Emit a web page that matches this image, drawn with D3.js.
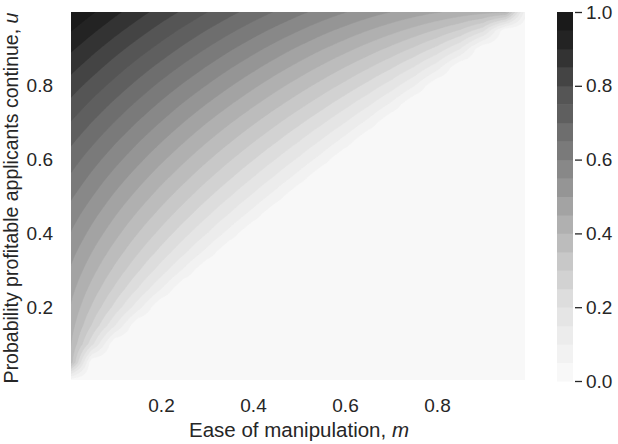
<!DOCTYPE html>
<html><head><meta charset="utf-8">
<script src="https://cdn.jsdelivr.net/npm/d3@7"></script>
<style>
body{margin:0;background:#fff}
svg{display:block;font-family:"Liberation Sans",Arial,Helvetica,sans-serif}
</style></head>
<body><svg id="c" width="618" height="444"></svg>
<script>
// ---- data ----
const gridM = [0,0.05,0.1,0.15,0.2,0.25,0.3,0.35,0.4,0.45,0.5,0.55,0.6,0.65,0.7,0.75,0.8,0.85,0.9,0.95,1.0];
const gridU = [0,0.05,0.1,0.15,0.2,0.25,0.3,0.35,0.4,0.45,0.5,0.55,0.6,0.65,0.7,0.75,0.8,0.85,0.9,0.95,1.0];
// rows: u = gridU[j]; columns: m = gridM[i]; values omitted at the end of a row are 0
const valueRows = [
 [],
 [.407],
 [.419,.214],
 [.435,.294,.151],
 [.454,.343,.233,.120],
 [.475,.382,.290,.197,.102],
 [.499,.417,.336,.256,.175,.090],
 [.524,.450,.377,.305,.233,.160,.083],
 [.552,.483,.416,.349,.284,.217,.150,.078],
 [.581,.516,.453,.391,.330,.269,.207,.143,.075],
 [.612,.551,.490,.432,.374,.317,.259,.201,.140,.074],
 [.645,.586,.528,.472,.417,.363,.308,.254,.198,.139,.074],
 [.679,.622,.567,.513,.460,.408,.356,.304,.252,.198,.140,.075],
 [.714,.660,.606,.554,.503,.453,.403,.354,.304,.254,.201,.143,.078],
 [.751,.698,.647,.596,.547,.498,.450,.403,.356,.308,.259,.207,.150,.083],
 [.790,.738,.688,.639,.591,.544,.498,.453,.408,.363,.317,.269,.217,.160,.090],
 [.829,.779,.731,.683,.636,.591,.547,.503,.460,.417,.374,.330,.284,.233,.175,.102],
 [.870,.822,.774,.728,.683,.639,.596,.554,.513,.472,.432,.391,.349,.305,.256,.197,.120],
 [.912,.865,.819,.774,.731,.688,.647,.606,.567,.528,.490,.453,.416,.377,.336,.290,.233,.151],
 [.956,.910,.865,.822,.779,.738,.698,.660,.622,.586,.551,.516,.483,.450,.417,.382,.343,.294,.214],
 [1.0,.956,.912,.870,.829,.790,.751,.714,.679,.645,.612,.581,.552,.524,.499,.475,.454,.435,.419,.407,0]
];
const levels = [0,0.05,0.1,0.15,0.2,0.25,0.3,0.35,0.4,0.45,0.5,0.55,0.6,0.65,0.7,0.75,0.8,0.85,0.9,0.95,1.0];
const bandColors = ['#f8f8f8','#f2f2f2','#ececec','#e5e5e5','#dddddd','#d2d2d2','#c8c8c8','#bcbcbc','#b0b0b0','#a3a3a3',
                    '#959595','#888888','#7a7a7a','#6e6e6e','#5f5f5f','#555555','#444444','#333333','#232323','#1a1a1a'];
const xTicks = [0.2,0.4,0.6,0.8];
const yTicks = [0.2,0.4,0.6,0.8];
const cbTicks = [0,0.2,0.4,0.6,0.8,1.0];
const xLabel = "Ease of manipulation, ";
const yLabel = "Probability profitable applicants continue, ";

// ---- table ----
const nm = gridM.length, nu = gridU.length;
const table = valueRows.map(r => gridM.map((_, i) => i < r.length ? r[i] : 0));

const svg = d3.select('#c');
const plot = {l:71, r:525, t:12, b:380};
const x = d3.scaleLinear().domain([0,1]).range([69,529]);
const y = d3.scaleLinear().domain([0,1]).range([381,12]);
const textCol = '#262626';
const font = '"Liberation Sans",Arial,sans-serif';

svg.append('defs').append('clipPath').attr('id','clip')
  .append('rect').attr('x',plot.l).attr('y',plot.t).attr('width',plot.r-plot.l).attr('height',plot.b-plot.t);

const g = svg.append('g').attr('clip-path','url(#clip)');
g.append('rect').attr('x',plot.l).attr('y',plot.t).attr('width',plot.r-plot.l).attr('height',plot.b-plot.t)
  .attr('fill',bandColors[0]);

// bilinear lookup in the table
const im = d3.scaleLinear().domain([gridM[0], gridM[nm-1]]).range([0, nm-1]).clamp(true);
const iu = d3.scaleLinear().domain([gridU[0], gridU[nu-1]]).range([0, nu-1]).clamp(true);
function lookup(m,u){
  const fi = im(m), fj = iu(u);
  const i0 = Math.min(Math.floor(fi), nm-2), j0 = Math.min(Math.floor(fj), nu-2);
  const a = fi - i0, b = fj - j0;
  const v00 = table[j0][i0], v10 = table[j0][i0+1], v01 = table[j0+1][i0], v11 = table[j0+1][i0+1];
  return (1-a)*(1-b)*v00 + a*(1-b)*v10 + (1-a)*b*v01 + a*b*v11;
}
const N = 321;
const sm = d3.scaleLinear().domain([0.5, N-0.5]).range([0,1]);   // grid coord -> m
const su = d3.scaleLinear().domain([0.5, N-0.5]).range([1,0]);   // grid coord -> u
const raster = new Float64Array(N*N);
for (let j=0;j<N;j++) for (let i=0;i<N;i++) raster[i + j*N] = lookup(sm(i+0.5), su(j+0.5));

const contours = d3.contours().size([N,N]).thresholds(levels.slice(1, levels.length-1))(raster);
const path = d3.geoPath(d3.geoTransform({point(px,py){ this.stream.point(x(sm(px)), y(su(py))); }}));
g.selectAll('path.band').data(contours).join('path').attr('class','band')
  .attr('d', path)
  .attr('fill', d => bandColors[levels.indexOf(d.value)])
  .attr('stroke', d => bandColors[levels.indexOf(d.value)]).attr('stroke-width',0.4);

// axes
const fs = 19;
const xAxis = svg.append('g').attr('transform',`translate(0,${plot.b})`)
  .call(d3.axisBottom(x).tickValues(xTicks).tickSize(0).tickPadding(19).tickFormat(d3.format('.1f')));
const yAxis = svg.append('g').attr('transform',`translate(${plot.l},0)`)
  .call(d3.axisLeft(y).tickValues(yTicks).tickSize(0).tickPadding(18).tickFormat(d3.format('.1f')));
[xAxis,yAxis].forEach(a=>{a.select('.domain').remove(); a.selectAll('text').attr('fill',textCol).style('font-size',fs+'px').style('font-family',font);});

svg.append('text').attr('x', x(0.5)).attr('y', 437).attr('text-anchor','middle')
  .attr('fill',textCol).style('font-size','20.5px')
  .text(xLabel).append('tspan').style('font-style','italic').text('m');
svg.append('text').attr('transform',`translate(17.5,${(plot.t+plot.b)/2 + 2}) rotate(-90)`).attr('text-anchor','middle')
  .attr('fill',textCol).style('font-size','19.5px')
  .text(yLabel).append('tspan').style('font-style','italic').text('u');

// colorbar
const cb = {l:557, w:16};
const yc = d3.scaleLinear().domain([0,1]).range([381,12]);
svg.append('g').selectAll('rect').data(bandColors).join('rect')
  .attr('x',cb.l).attr('width',cb.w)
  .attr('y',(d,i)=>yc(levels[i+1])).attr('height',(d,i)=>yc(levels[i])-yc(levels[i+1])+0.5)
  .attr('fill',d=>d);
const cAxis = svg.append('g').attr('transform',`translate(575,0)`)
  .call(d3.axisRight(yc).tickValues(cbTicks).tickSize(7).tickPadding(4).tickFormat(d3.format('.1f')));
cAxis.select('.domain').remove();
cAxis.selectAll('line').attr('stroke',textCol).attr('stroke-width',1.3);
cAxis.selectAll('text').attr('fill',textCol).style('font-size',fs+'px').style('font-family',font);
</script></body></html>
